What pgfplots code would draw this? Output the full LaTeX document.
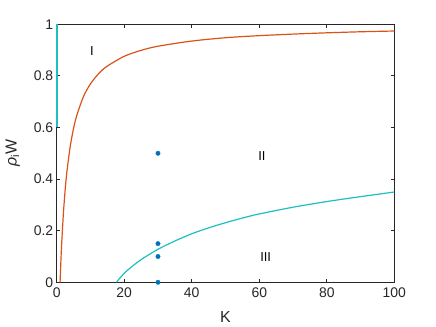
\documentclass[border=0pt]{standalone}
\usepackage{fontspec}
\setmainfont{Liberation Sans}
\usepackage{pgfplots}
\pgfplotsset{compat=1.18}
\definecolor{morange}{rgb}{0.85,0.325,0.098}
\definecolor{mcyan}{rgb}{0.12,0.75,0.75}
\definecolor{mblue}{rgb}{0,0.447,0.741}
\definecolor{axgray}{rgb}{0.15,0.15,0.15}
\begin{document}
\begin{tikzpicture}
\begin{axis}[
  name=ax,
  set layers,
  scale only axis=true,
  width=337.6bp, height=258bp,
  xmin=0, xmax=100, ymin=0, ymax=1,
  xtick={0,20,40,60,80,100},
  ytick={0,0.2,0.4,0.6,0.8,1},
  yticklabels={0,0.2,0.4,0.6,0.8,1},
  tick pos=both,
  tick align=inside,
  major tick length=3.5bp,
  axis line style={axgray, line width=0.9bp},
  every tick/.style={axgray, line width=0.9bp},
  /pgf/number format/assume math mode=true,
  tick label style={font=\fontsize{14}{16}\selectfont, text=axgray},
  xticklabel style={yshift=-2bp},
  xlabel={K},
  ylabel={{\itshape ρ}\textsubscript{i}W},
  xlabel style={font=\fontsize{16}{18}\selectfont, text=axgray, at={(axis description cs:0.5,-0.133)}, anchor=center},
  ylabel style={font=\fontsize{16}{18}\selectfont, text=axgray, at={(axis description cs:-0.13,0.5)}, anchor=center},
  clip=false,
]
\addplot[morange, line width=1.2bp, smooth] coordinates {
 (1,0) (1.25,0.085) (1.5,0.156) (2,0.270) (2.5,0.357) (3,0.426) (4,0.526)
 (5,0.597) (6,0.649) (8,0.722) (10,0.769) (12.5,0.810) (15,0.838)
 (20,0.876) (25,0.899) (30,0.915) (40,0.935) (50,0.948) (60,0.956)
 (70,0.962) (80,0.967) (90,0.971) (100,0.974)
};
\addplot[mcyan, line width=1.2bp, smooth] coordinates {
 (17.7,0) (18.5,0.013) (20,0.035) (22,0.058) (25,0.088) (30,0.128)
 (35,0.160) (40,0.188) (45,0.211) (50,0.231) (55,0.249) (60,0.265)
 (70,0.291) (80,0.313) (90,0.332) (100,0.350)
};
\addplot[only marks, mark=*, mark size=2.2bp, mblue, mark options={draw=mblue, fill=mblue}] coordinates {
 (30,0.5) (30,0.15) (30,0.1) (30,0)
};
\addplot[mcyan, line width=1.6bp, on layer=axis foreground] coordinates {(0.1,0.6) (0.1,1)};
\node[font=\fontsize{13}{15}\selectfont, text=black] at (axis cs:10.4,0.896) {I};
\node[font=\fontsize{13}{15}\selectfont, text=black] at (axis cs:60.8,0.49) {II};
\node[font=\fontsize{13}{15}\selectfont, text=black] at (axis cs:61.9,0.096) {III};
\end{axis}
\path ([shift={(-56.7bp,-44.7bp)}]ax.south west) rectangle ([shift={(41.7bp,24.3bp)}]ax.north east);
\end{tikzpicture}
\end{document}
